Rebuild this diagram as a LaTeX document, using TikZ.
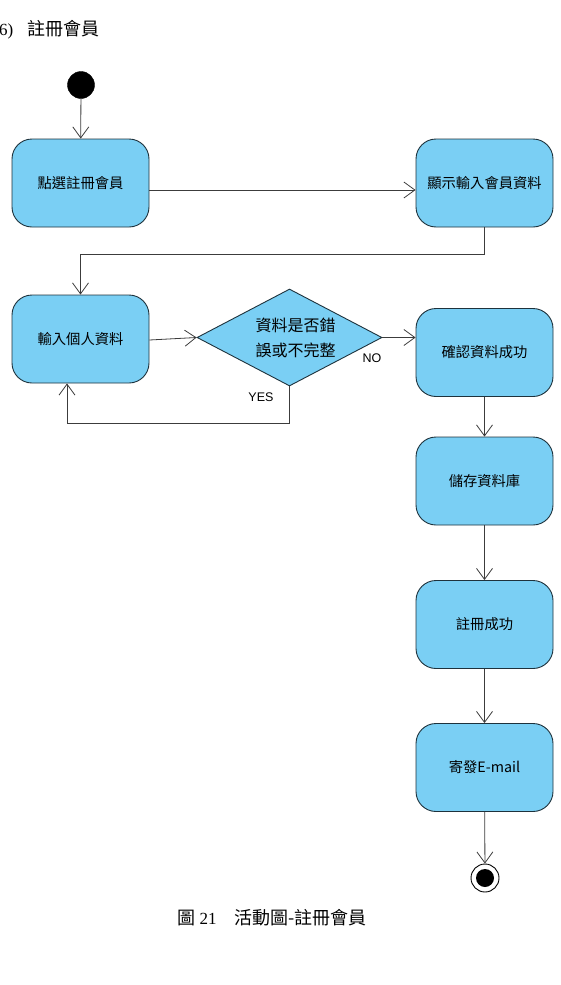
\documentclass[tikz,border=0pt]{standalone}
\usepackage{fontspec}
\setmainfont{Liberation Serif}
\newfontfamily\cjk{Noto Sans CJK TC}
\usetikzlibrary{arrows.meta,shapes.geometric}
\definecolor{actfill}{RGB}{122,207,244}
\definecolor{actdraw}{RGB}{30,50,60}
\definecolor{flowc}{RGB}{60,60,60}
\tikzset{
  act/.style={rectangle, rounded corners=20pt, draw=actdraw, line width=0.9pt, fill=actfill,
    minimum width=137pt, minimum height=88pt, inner sep=0pt, font=\cjk\fontsize{14.3}{16}\selectfont},
  dec/.style={diamond, aspect=1.9, draw=actdraw, line width=0.9pt, fill=actfill, inner sep=0pt,
    minimum width=185pt, minimum height=97pt, align=center, font=\cjk\fontsize{16}{25}\selectfont},
  flow/.style={draw=flowc, line width=0.8pt, -{Straight Barb[length=11pt,width=16pt,line width=0.8pt]}},
  lbl/.style={font=\fontspec{Liberation Sans}\fontsize{12.5}{14}\selectfont, inner sep=0pt},
}
\begin{document}
\begin{tikzpicture}[x=1pt,y=-1pt]
\useasboundingbox (0,0) rectangle (561,985);
\node[anchor=west, inner sep=0pt, font=\fontsize{17}{20}\selectfont] (title) at (-1,30) {6)\hspace{14pt}{\cjk\fontsize{18}{20}\selectfont 註冊會員}};
\node[circle, fill=black, draw=black, minimum size=27pt, inner sep=0pt] (start) at (81,85) {};
\node[act] (a1) at (80.5,183) {點選註冊會員};
\node[act] (a2) at (484.5,183) {顯示輸入會員資料};
\node[act] (a3) at (80.5,339) {輸入個人資料};
\node[dec] (d) at (289.5,337.5) {\hspace*{12pt}資料是否錯\\\hspace*{12pt}誤或不完整};
\node[act] (a4) at (484.5,352.5) {確認資料成功};
\node[act] (a5) at (484.5,481) {儲存資料庫};
\node[act] (a6) at (484.5,624.5) {註冊成功};
\node[act] (a7) at (484.5,767.5) {寄發E-mail};
\node[circle, draw=black, line width=0.9pt, fill=white, minimum size=28pt, inner sep=0pt] (end) at (485,878) {};
\node[circle, fill=black, minimum size=18pt, inner sep=0pt] (endin) at (end) {};
\coordinate (c1) at (484.5,254);
\coordinate (c2) at (80.5,254);
\coordinate (c3) at (289.5,423);
\coordinate (c4) at (67,423);
\draw[flow] (start) -- (a1);
\draw[flow] (a1.east |- 0,190) -- (a2.west |- 0,190);
\draw[flow] (a2.south) -- (c1) -- (c2) -- (a3.north);
\draw[flow] (a3.east |- 0,340) -- (d.west);
\draw[flow] (d.east) -- (a4.west |- d.east);
\draw[flow] (d.south) -- (c3) -- (c4) -- (c4 |- a3.south);
\draw[flow] (a4) -- (a5);
\draw[flow] (a5) -- (a6);
\draw[flow] (a6) -- (a7);
\draw[flow] (a7) -- (end);
\node[lbl] (no) at (372,358) {NO};
\node[lbl] (yes) at (261,397) {YES};
\node[inner sep=0pt, font=\fontsize{17}{20}\selectfont] (cap) at (272,918) {{\cjk\fontsize{18}{20}\selectfont 圖} 21\hspace{18pt}{\cjk\fontsize{18}{20}\selectfont 活動圖-註冊會員}};
\end{tikzpicture}
\end{document}
